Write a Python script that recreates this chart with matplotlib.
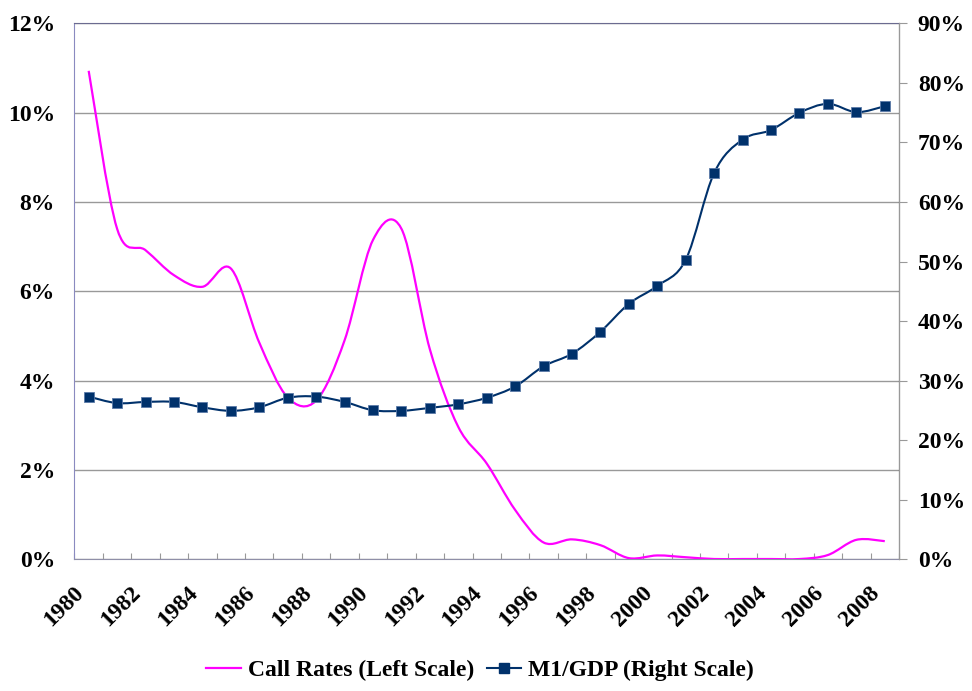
import matplotlib
matplotlib.use('Agg')
import matplotlib.pyplot as plt
import matplotlib.transforms as mtransforms
from matplotlib.path import Path
from matplotlib.patches import PathPatch
from matplotlib.lines import Line2D
from matplotlib.ticker import FuncFormatter, MultipleLocator
import numpy as np

plt.rcParams['font.family'] = ['Liberation Serif', 'DejaVu Serif']
plt.rcParams['font.weight'] = 'bold'

# data
years = list(range(1980, 2009))
call_rates = [10.94, 7.40, 6.92, 6.36, 6.10, 6.51, 4.85, 3.62, 3.55, 4.90,
              7.15, 7.40, 4.70, 2.96, 2.14, 1.10, 0.37, 0.44, 0.31, 0.02,
              0.08, 0.04, 0.0, 0.0, 0.0, 0.0, 0.09, 0.43, 0.40]
m1_gdp = [27.3, 26.2, 26.4, 26.4, 25.5, 24.9, 25.5, 27.1, 27.3, 26.4,
          25.0, 24.9, 25.4, 26.0, 27.1, 29.0, 32.4, 34.5, 38.2, 42.9,
          45.9, 50.3, 64.9, 70.5, 72.1, 75.0, 76.5, 75.1, 76.1]
year_labels = [str(y) for y in years[::2]]

pink = '#ff00ff'
navy = '#00316b'


def smooth_path(x, y):
    # Excel-style smoothed line: cubic Bezier segments through the points
    x = np.asarray(x, float)
    y = np.asarray(y, float)
    n = len(x)
    verts = [(x[0], y[0])]
    codes = [Path.MOVETO]
    for i in range(n - 1):
        i0 = max(i - 1, 0)
        i3 = min(i + 2, n - 1)
        c1 = (x[i] + (x[i + 1] - x[i0]) / 6, y[i] + (y[i + 1] - y[i0]) / 6)
        c2 = (x[i + 1] - (x[i3] - x[i]) / 6, y[i + 1] - (y[i3] - y[i]) / 6)
        verts += [c1, c2, (x[i + 1], y[i + 1])]
        codes += [Path.CURVE4] * 3
    return Path(verts, codes)


fig = plt.figure(figsize=(9.72, 6.91), dpi=100)
ax = fig.add_axes([0.0766, 0.191, 0.8483, 0.775])
ax2 = ax.twinx()

xpos = np.arange(len(years)) + 0.5

ax.add_patch(PathPatch(smooth_path(xpos, call_rates), fill=False,
                       edgecolor=pink, lw=1.6, zorder=3))
ax2.add_patch(PathPatch(smooth_path(xpos, m1_gdp), fill=False,
                        edgecolor=navy, lw=1.5, zorder=3))
ax2.plot(xpos, m1_gdp, ls='none', marker='s', ms=7.5, color=navy,
         markeredgecolor='#5a7aa8', markeredgewidth=0.6, zorder=4)

ax.set_xlim(0, len(years))
ax.set_ylim(0, 12)
ax2.set_ylim(0, 90)

ax.yaxis.set_major_locator(MultipleLocator(2))
ax2.yaxis.set_major_locator(MultipleLocator(10))
pct = FuncFormatter(lambda v, p: '%d%%' % round(v))
ax.yaxis.set_major_formatter(pct)
ax2.yaxis.set_major_formatter(pct)

ax.grid(axis='y', color='#999999', lw=1)
ax.set_axisbelow(True)

# x ticks at category boundaries, labels under every other category
ax.set_xticks(np.arange(len(years) + 1))
ax.set_xticklabels([])
ax.tick_params(axis='x', direction='in', length=4, color='#999999')
ax.set_xticks(xpos[::2], minor=True)
ax.set_xticklabels(year_labels, minor=True, rotation=45, ha='right',
                   va='center', rotation_mode='anchor', fontsize=17,
                   fontweight='bold')
ax.tick_params(axis='x', which='minor', length=0, pad=22)
shift = mtransforms.ScaledTranslation(-8 / 100, 0, fig.dpi_scale_trans)
for lab in ax.xaxis.get_minorticklabels():
    lab.set_transform(lab.get_transform() + shift)

ax.tick_params(axis='y', length=0, pad=14, labelsize=17)
ax2.tick_params(axis='y', direction='out', length=5.5, color='#999999',
                pad=8, labelsize=17)
for lab in ax.get_yticklabels() + ax2.get_yticklabels():
    lab.set_fontweight('bold')

ax.spines['left'].set_color('#8a8ac0')
ax.spines['top'].set_color('#6b6b90')
ax.spines['bottom'].set_color('#8f8fa8')
ax2.spines['right'].set_color('#999999')
for s in ['left', 'top', 'bottom']:
    ax2.spines[s].set_visible(False)

handles = [Line2D([], [], color=pink, lw=1.6),
           Line2D([], [], color=navy, lw=1.5, marker='s', ms=7.5)]
fig.legend(handles, ['Call Rates (Left Scale)', 'M1/GDP (Right Scale)'],
           loc='center', bbox_to_anchor=(0.494, 0.030), ncol=2, frameon=False,
           prop={'size': 17, 'weight': 'bold'}, handlelength=1.45,
           handletextpad=0.3, columnspacing=0.55)

fig.savefig('out.png', dpi=100)
